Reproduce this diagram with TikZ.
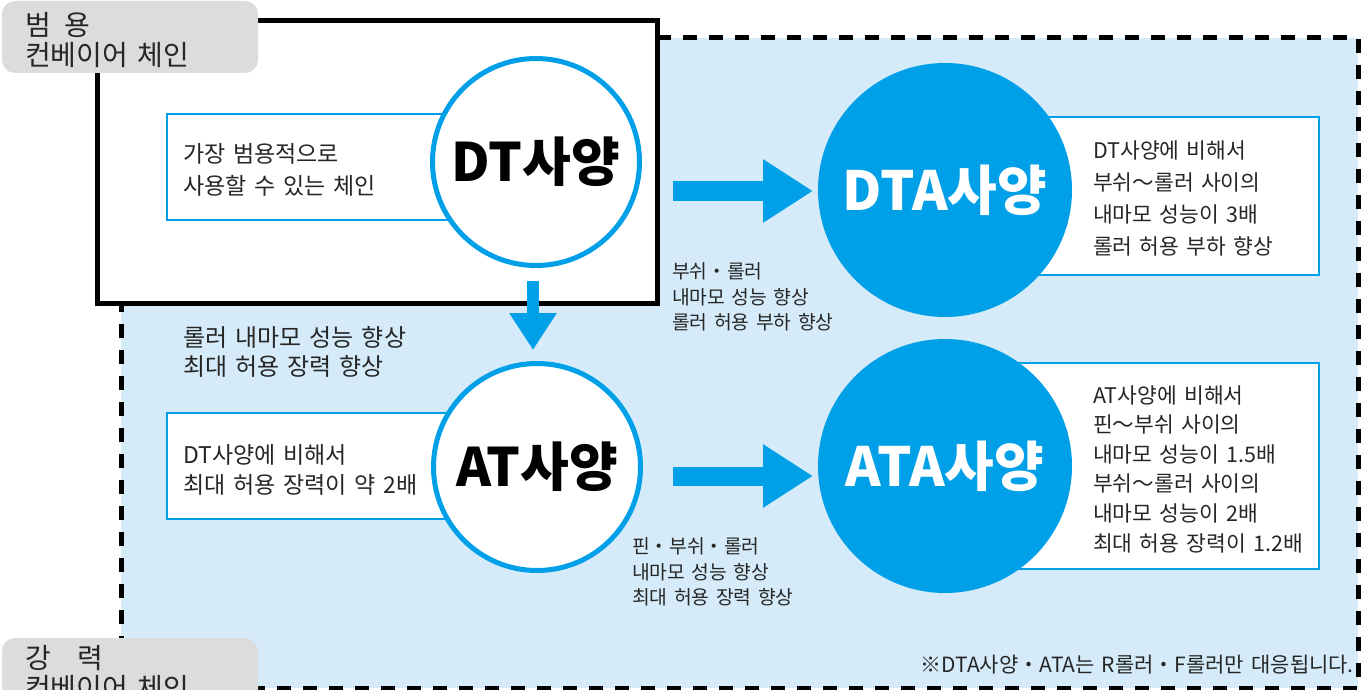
\documentclass[tikz,border=0pt]{standalone}
\usepackage{fontspec}
\setmainfont[WordSpace=1.5]{Noto Sans CJK KR}
\usetikzlibrary{arrows.meta}
\definecolor{mainblue}{RGB}{0,160,233}
\definecolor{lightblue}{RGB}{213,235,249}
\definecolor{labelgray}{RGB}{220,220,220}
\begin{document}
\begin{tikzpicture}[x=1pt,y=-1pt,
  labelbox/.style={fill=labelgray, rounded corners=13pt, inner sep=0pt, outer sep=0pt, anchor=north west},
  labeltext/.style={anchor=west, inner sep=0pt, align=left, font=\fontsize{28}{30}\selectfont, text=black!85},
  descbox/.style={draw=mainblue, line width=2.5pt, fill=white, inner sep=0pt, outer sep=0pt, anchor=north west},
  desctext/.style={anchor=west, inner sep=0pt, align=left, text=black!85},
  specw/.style={circle, draw=mainblue, line width=5pt, fill=white, minimum size=207pt, inner sep=0pt,
    font=\fontsize{53}{54}\selectfont\bfseries},
  specb/.style={circle, fill=mainblue, minimum size=254pt, inner sep=0pt, text=white,
    font=\fontsize{54}{55}\selectfont\bfseries},
  bigarrow/.style={draw=mainblue, line width=19pt, -{Triangle[length=50pt,width=60pt]}},
  downarrow/.style={draw=mainblue, line width=12pt, -{Triangle[length=37pt,width=45pt]}},
  note/.style={anchor=west, inner sep=0pt, align=left, text=black!85, font=\fontsize{19.3}{25.5}\selectfont}
]
\useasboundingbox (0,0) rectangle (1366,690);
% light blue region with dashed border
\fill[lightblue] (121,38) rectangle (1358,688);
\draw[line width=5pt, dash pattern=on 14pt off 12pt] (121,38) rectangle (1358,688);
% general-purpose black frame
\draw[line width=5pt, fill=white] (97,21) rectangle (657,303);
% gray labels
\node[labelbox, minimum width=256pt, minimum height=72pt] (lblgen) at (2,1) {};
\node[labeltext] (lblgentext) at (25,40) {범\hspace{14pt}용\\컨베이어 체인};
\node[labelbox, minimum width=256pt, minimum height=80pt] (lblstr) at (2,638) {};
\node[labeltext] (lblstrtext) at (25,673) {강\hspace{27pt}력\\컨베이어 체인};
% description boxes
\node[descbox, minimum width=283pt, minimum height=106pt] (dtbox) at (167,114) {};
\node[descbox, minimum width=283pt, minimum height=106pt] (atbox) at (167,413) {};
\node[descbox, minimum width=320pt, minimum height=158pt] (dtabox) at (999,117) {};
\node[descbox, minimum width=320pt, minimum height=206pt] (atabox) at (999,363) {};
% circles
\node[specw] (dt) at (536,162) {DT사양};
\node[specw] (at) at (537,467) {AT사양};
\node[specb] (dta) at (945,190) {DTA사양};
\node[specb] (ata) at (945,466) {ATA사양};
% box texts
\node[desctext, font=\fontsize{23}{32}\selectfont] (dttext) at (183,170) {가장 범용적으로\\사용할 수 있는 체인};
\node[desctext, font=\fontsize{23}{30}\selectfont] (attext) at (183,470) {DT사양에 비해서\\최대 허용 장력이 약 2배};
\node[desctext, font=\fontsize{21.5}{32}\selectfont] (dtatext) at (1093,198) {DT사양에 비해서\\부쉬～롤러 사이의\\내마모 성능이 3배\\롤러 허용 부하 향상};
\node[desctext, font=\fontsize{21.5}{29.6}\selectfont] (atatext) at (1093,469) {AT사양에 비해서\\핀～부쉬 사이의\\내마모 성능이 1.5배\\부쉬～롤러 사이의\\내마모 성능이 2배\\최대 허용 장력이 1.2배};
% arrows
\coordinate (a1s) at (673,191);
\coordinate (a1e) at (813,191);
\coordinate (a2s) at (673,476);
\coordinate (a2e) at (813,476);
\coordinate (a3s) at (533,281);
\coordinate (a3e) at (533,350);
\draw[bigarrow] (a1s) -- (a1e);
\draw[bigarrow] (a2s) -- (a2e);
\draw[downarrow] (a3s) -- (a3e);
% arrow notes
\node[desctext, font=\fontsize{24}{29}\selectfont] (downnote) at (183,352) {롤러 내마모 성능 향상\\최대 허용 장력 향상};
\node[note] (dtanote) at (672,297) {부쉬・롤러\\내마모 성능 향상\\롤러 허용 부하 향상};
\node[note] (atanote) at (632,572) {핀・부쉬・롤러\\내마모 성능 향상\\최대 허용 장력 향상};
% footnote
\node[anchor=east, inner sep=0pt, text=black!85, font=\fontsize{21}{22}\selectfont] (foot) at (1354,665) {※DTA사양・ATA는 R롤러・F롤러만 대응됩니다.};
\end{tikzpicture}
\end{document}
